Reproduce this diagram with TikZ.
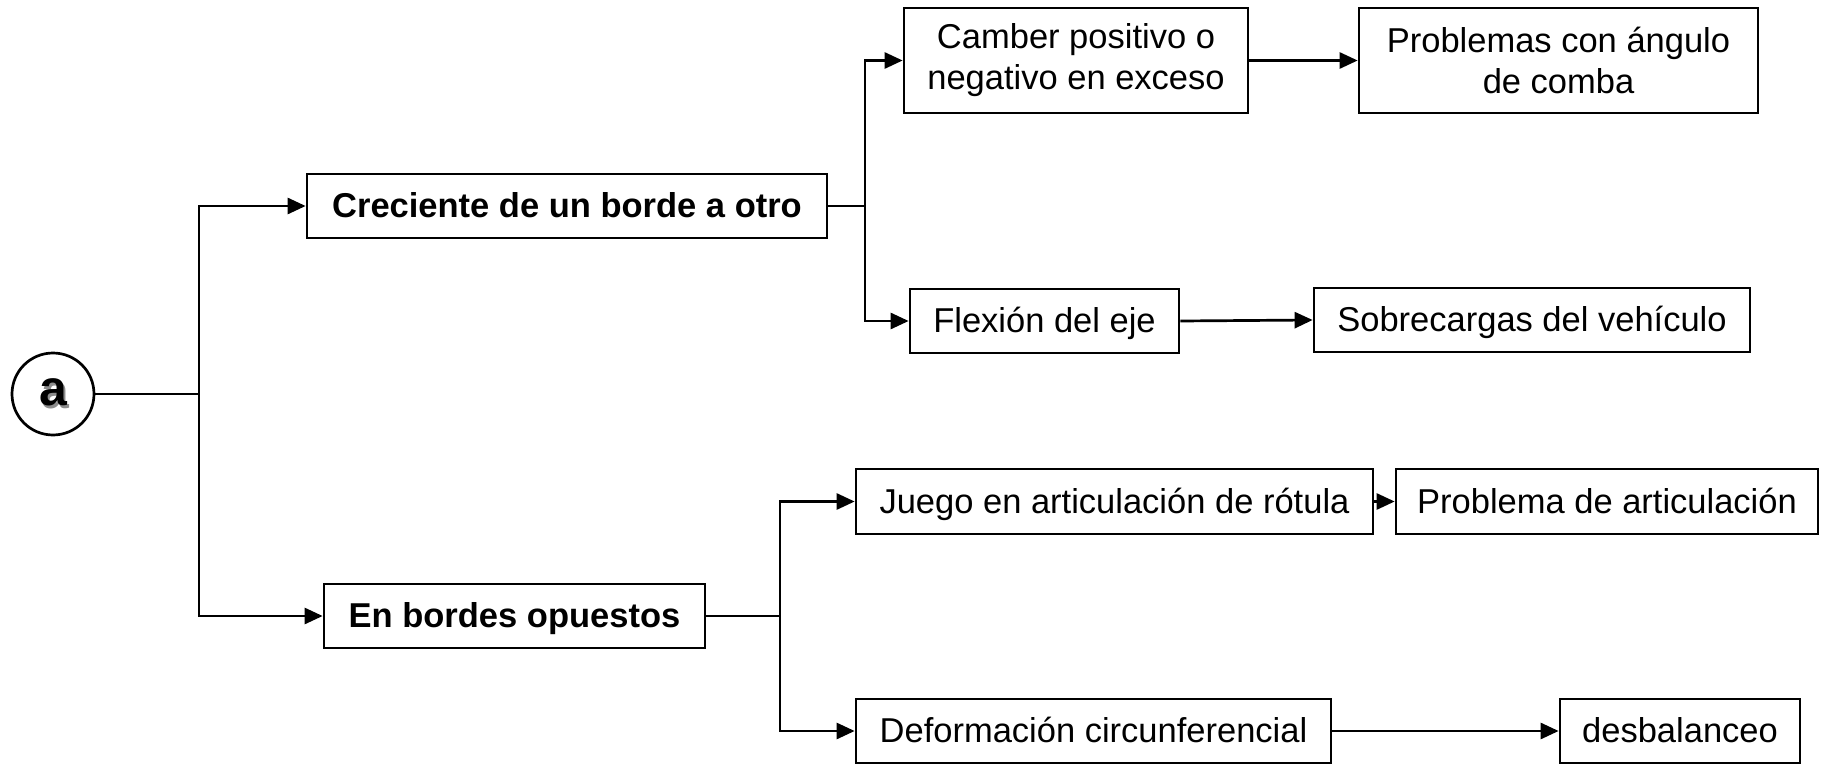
\documentclass[tikz,border=0pt]{standalone}
\usepackage{fontspec}
\setmainfont{Liberation Sans}
\usetikzlibrary{arrows.meta}
\tikzset{
  box/.style={draw=black, line width=2.7pt, rectangle, inner sep=0pt, align=center,
    font=\fontsize{34.5}{41}\selectfont, text=black},
  onebox/.style={box, text height=31.2pt, text depth=7.3pt},
  boldbox/.style={onebox, font=\fontsize{34.5}{41}\selectfont\bfseries},
  conn/.style={line width=2.7pt, draw=black},
  arr/.style={conn, -{Triangle[length=18pt,width=16pt]}},
  startcircle/.style={draw=black, line width=2.7pt, circle, inner sep=0pt, minimum size=82pt,
    font=\fontsize{50}{50}\selectfont\bfseries}
}
\begin{document}
\begin{tikzpicture}[x=1pt,y=-1pt]
\useasboundingbox (0,0) rectangle (1832,765);
% nodes
\node[startcircle] (a) at (53,394) {\rlap{\textcolor{black!45}{\kern2.5pt\raisebox{-2.5pt}{a}}}a};
\node[boldbox, minimum width=520pt, minimum height=64pt] (c1) at (567,206) {Creciente de un borde a otro};
\node[box, minimum width=344pt, minimum height=105pt] (c2) at (1076,60.5) {Camber positivo o\\negativo en exceso};
\node[box, minimum width=399pt, minimum height=105pt] (c3) at (1558.5,60.5) {Problemas con ángulo\\de comba};
\node[onebox, minimum width=269pt, minimum height=64pt] (c4) at (1044.5,321) {Flexión del eje};
\node[onebox, minimum width=436pt, minimum height=64pt] (c5) at (1532,320) {Sobrecargas del vehículo};
\node[boldbox, minimum width=381pt, minimum height=64pt] (d1) at (514.5,616) {En bordes opuestos};
\node[onebox, minimum width=517pt, minimum height=65pt] (d2) at (1114.5,501.5) {Juego en articulación de rótula};
\node[onebox, minimum width=422pt, minimum height=65pt] (d3) at (1607,501.5) {Problema de articulación};
\node[onebox, minimum width=475pt, minimum height=64pt] (d4) at (1093.5,731) {Deformación circunferencial};
\node[onebox, minimum width=240pt, minimum height=64pt] (d5) at (1680,731) {desbalanceo};
% junctions
\coordinate (j1) at (199,394);
\coordinate (j2) at (865,206);
\coordinate (j3) at (780,616);
% connectors
\draw[conn] (a.east) -- (j1);
\draw[arr] (j1) |- (c1.west);
\draw[arr] (j1) |- (d1.west);
\draw[conn] (c1.east) -- (j2);
\draw[arr] (j2) |- (c2.west);
\draw[arr] (j2) |- (c4.west);
\draw[arr] (c2.east) -- (c3.west);
\draw[arr] (c4.east) -- (c5.west);
\draw[conn] (d1.east) -- (j3);
\draw[arr] (j3) |- (d2.west);
\draw[arr] (j3) |- (d4.west);
\draw[arr] (d2.east) -- (d3.west);
\draw[arr] (d4.east) -- (d5.west);
\end{tikzpicture}
\end{document}
